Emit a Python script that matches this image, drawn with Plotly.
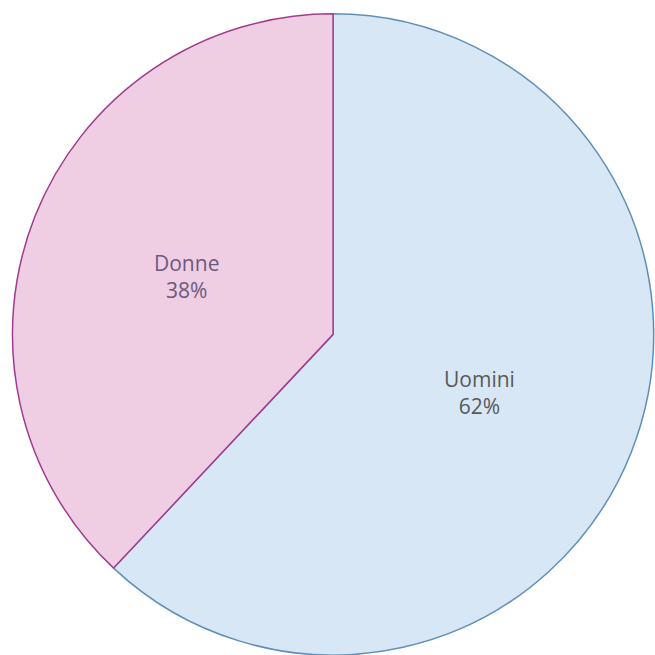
import math
import plotly.graph_objects as go

labels = ["Uomini", "Donne"]
values = [62, 38]
fill_colors = ["#d7e7f5", "#efcde3"]
line_colors = ["#5f8fb8", "#a03b8f"]
text_colors = ["#595959", "#6b5a7e"]

fig = go.Figure()
fig.add_trace(go.Pie(
    labels=labels, values=values, sort=False, direction="clockwise", rotation=0,
    marker=dict(colors=fill_colors, line=dict(color=line_colors, width=1.5)),
    textinfo="none", hoverinfo="label+percent", showlegend=False,
    domain=dict(x=[0.018, 0.999], y=[0.0, 0.979]),
))

# label positions along each slice's bisector at half radius
cx = (0.018 + 0.999) / 2
cy = 0.979 / 2
R = 0.979 / 2
total = sum(values)
start = 0.0
annotations = []
for lab, v, tc in zip(labels, values, text_colors):
    mid = (start + v / 2) / total * 2 * math.pi
    start += v
    x = cx + 0.49 * R * math.sin(mid)
    y = cy + 0.49 * R * math.cos(mid)
    annotations.append(dict(
        x=x, y=y, xref="paper", yref="paper", showarrow=False,
        xanchor="center", yanchor="middle",
        text=f"{lab}<br>{round(v / total * 100)}%",
        font=dict(family="Open Sans, DejaVu Sans, sans-serif", size=21, color=tc),
        align="center",
    ))

fig.update_layout(
    width=655, height=655, margin=dict(l=0, r=0, t=0, b=0),
    paper_bgcolor="white", plot_bgcolor="white", annotations=annotations,
)
fig.write_html("out.html")
